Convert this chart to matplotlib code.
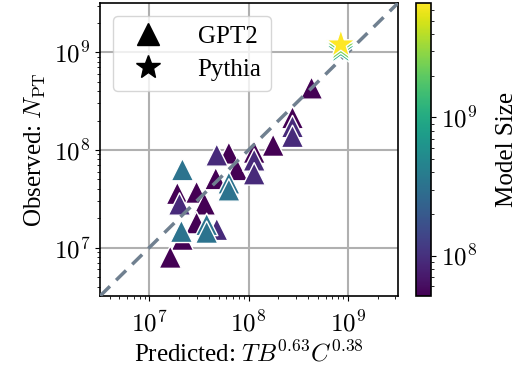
import numpy as np
import matplotlib
matplotlib.use("Agg")
import matplotlib.pyplot as plt
from matplotlib.colors import LogNorm
from matplotlib.lines import Line2D
from matplotlib.ticker import FuncFormatter, NullFormatter

plt.rcParams["font.family"] = "serif"
plt.rcParams["font.serif"] = ["Liberation Serif", "DejaVu Serif"]
plt.rcParams["mathtext.fontset"] = "cm"
plt.rcParams["font.size"] = 18

## Data
# GPT2 runs: predicted, observed, model size
gpt2_pred = [4.31e8, 2.77e8, 2.77e8, 2.77e8, 1.77e8, 1.14e8, 1.14e8, 1.14e8,
             4.79e7, 6.34e7, 7.64e7, 4.68e7, 6.34e7, 6.34e7, 2.16e7, 1.92e7,
             3.0e7, 2.02e7, 3.61e7, 3.0e7, 4.79e7, 3.79e7, 3.79e7, 2.11e7,
             2.16e7, 1.63e7]
gpt2_obs = [4.32e8, 2.15e8, 1.74e8, 1.38e8, 1.12e8, 9.5e7, 7.9e7, 5.7e7,
            8.9e7, 9.3e7, 6.3e7, 5.1e7, 4.6e7, 3.9e7, 6.3e7, 3.6e7,
            3.7e7, 2.8e7, 2.8e7, 1.8e7, 1.54e7, 1.73e7, 1.44e7, 1.47e7,
            1.22e7, 8.0e6]
gpt2_size = [5.1e7, 5.1e7, 9.2e7, 9.2e7, 5.1e7, 5.1e7, 9.2e7, 9.2e7,
             9.2e7, 5.1e7, 5.1e7, 5.1e7, 3.3e8, 3.3e8, 3.3e8, 5.1e7,
             5.1e7, 9.2e7, 5.1e7, 5.1e7, 9.2e7, 3.3e8, 3.3e8, 3.3e8,
             5.1e7, 5.1e7]

# Pythia runs
pythia_pred = [8.5e8, 8.5e8, 8.5e8]
pythia_obs = [1.05e9, 1.12e9, 1.205e9]
pythia_size = [9.6e8, 2.5e9, 6.7e9]

size_min = 5.1e7
size_max = 6.7e9
lims = (3.2e6, 3.2e9)


def pow10(v, pos):
    return r"$10^{%d}$" % int(round(np.log10(v)))


## Plot
fig = plt.figure(figsize=(5.21, 3.79), dpi=100)
ax = fig.add_axes([0.192, 0.219, 0.572, 0.773])
cax = fig.add_axes([0.798, 0.219, 0.029, 0.773])

norm = LogNorm(vmin=size_min, vmax=size_max)

# small models first so the bigger ones end up on top
order = np.argsort(gpt2_size, kind="stable")
gx = np.array(gpt2_pred)[order]
gy = np.array(gpt2_obs)[order]
gs = np.array(gpt2_size)[order]
sc = ax.scatter(gx, gy, c=gs, cmap="viridis", norm=norm, marker="^",
                s=260, edgecolors="white", linewidths=1.0, zorder=3)

ax.plot(lims, lims, linestyle=(0, (4, 2.5)), color="slategray",
        linewidth=2.5, zorder=4)

ax.scatter(pythia_pred, pythia_obs, c=pythia_size, cmap="viridis", norm=norm,
           marker="*", s=480, edgecolors="white", linewidths=1.0, zorder=5)

ax.set_xscale("log")
ax.set_yscale("log")
ax.set_xlim(lims)
ax.set_ylim(lims)
for a in (ax.xaxis, ax.yaxis):
    a.set_major_formatter(FuncFormatter(pow10))
    a.set_minor_formatter(NullFormatter())
ax.tick_params(axis="x", which="major", pad=7)
ax.grid(True, which="major", color="#b0b0b0", linewidth=1.5)
ax.set_axisbelow(True)
for sp in ax.spines.values():
    sp.set_linewidth(1.2)
ax.set_xlabel(r"Predicted: $TB^{0.63}C^{0.38}$", labelpad=3)
ax.set_ylabel(r"Observed: $N_{\mathrm{PT}}$", labelpad=4)

handles = [Line2D([], [], marker="^", color="black", linestyle="none", markersize=16),
           Line2D([], [], marker="*", color="black", linestyle="none", markersize=18)]
ax.legend(handles, ["GPT2", "Pythia"], loc="upper left", framealpha=0.8,
          borderpad=0.4, handletextpad=1.0, labelspacing=0.4, fontsize=18)

cb = fig.colorbar(sc, cax=cax)
cb.set_label("Model Size", labelpad=14)
cb.outline.set_linewidth(1.2)
cb.ax.yaxis.set_major_formatter(FuncFormatter(pow10))
cb.ax.yaxis.set_minor_formatter(NullFormatter())

fig.savefig("out.png", dpi=100)
